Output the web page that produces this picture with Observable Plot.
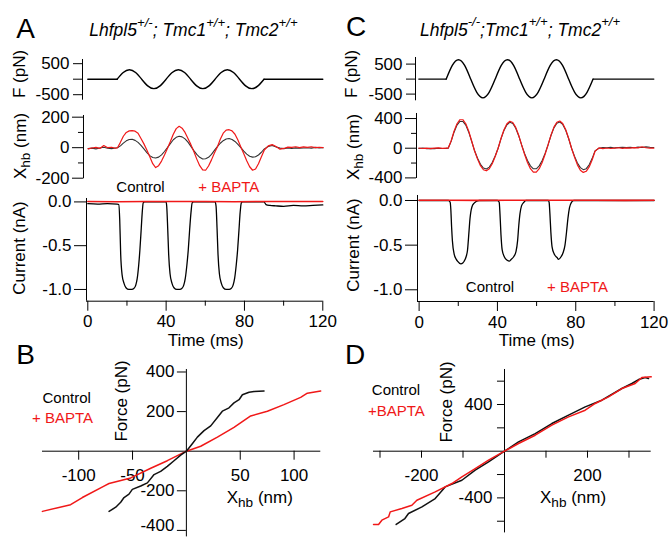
<!DOCTYPE html>
<html><head><meta charset="utf-8">
<script src="https://cdn.jsdelivr.net/npm/d3@7"></script>
<script src="https://cdn.jsdelivr.net/npm/@observablehq/plot@0.6"></script>
<style>
body{margin:0;background:#fff;}
#fig{position:relative;width:669px;height:538px;overflow:hidden;background:#fff;font-family:"Liberation Sans",Arial,Helvetica,sans-serif;color:#000;}
#fig svg{position:absolute;overflow:visible;background:transparent;max-width:none;}
.lbl{position:absolute;white-space:nowrap;line-height:1;}
.sup{font-size:0.75em;position:relative;top:-0.7em;}
.sub{font-size:0.8em;position:relative;top:0.3em;}
</style></head><body><div id="fig"></div><script>
// ---------------- DATA ----------------
// Force stimulus (pN) – sampled at 1/8 period
const forceTimeA = [0, 15, 18.1, 21.25, 24.4, 27.5, 30.6, 33.75, 36.9, 40, 43.1, 46.25, 49.4, 52.5, 55.6, 58.75, 61.9, 65, 68.1, 71.25, 74.4, 77.5, 80.6, 83.75, 86.9, 90, 120];
const forceA     = [0, 0, 215, 305, 215, 0, -215, -305, -215, 0, 215, 305, 215, 0, -215, -305, -215, 0, 215, 305, 215, 0, -215, -305, -215, 0, 0];
const forceWindowA = [15, 90];
const forceTimeC = [0, 14, 17.1, 20.25, 23.4, 26.5, 29.6, 32.75, 35.9, 39, 42.1, 45.25, 48.4, 51.5, 54.6, 57.75, 60.9, 64, 67.1, 70.25, 73.4, 76.5, 79.6, 82.75, 85.9, 89, 120];
const forceC     = [0, 0, 456, 645, 456, 0, -442, -625, -442, 0, 456, 645, 456, 0, -442, -625, -442, 0, 456, 645, 456, 0, -442, -625, -442, 0, 0];
const forceWindowC = [14, 89];

// Hair-bundle displacement (nm)
const timeGrid = [0,2,4,6,8,10,12,14,
  15,16.5,18,19.5,21,22.5,24,25.5,27,28.5,30,31.5,33,34.5,36,37.5,39,40.5,42,43.5,45,46.5,48,49.5,51,52.5,54,55.5,57,58.5,60,61.5,63,64.5,66,67.5,69,70.5,72,73.5,75,76.5,78,79.5,81,82.5,84,85.5,87,88.5,90,
  92,94,96,98,100,102,104,106,108,110,112,114,116,118,120];
const xhbControlA = [-6,-3,-8,-2,3,-4,-6,-2,
  0,12,30,45,54,55,48,35,15,-8,-32,-52,-64,-68,-62,-47,-25,0,27,52,68,75,71,58,36,9,-19,-44,-63,-74,-73,-63,-44,-18,7,29,46,57,60,54,41,22,0,-23,-42,-56,-62,-59,-48,-30,-8,
  8,14,5,-3,-6,-2,-5,-1,-4,-2,0,-3,2,-1,0];
const xhbBaptaA = [-8,-2,2,-5,14,0,3,-4,
  0,35,75,100,110,112,108,95,60,25,-15,-60,-105,-130,-118,-88,-48,-5,40,88,125,140,128,100,60,20,-25,-75,-118,-145,-148,-120,-80,-35,5,55,95,115,118,110,88,50,5,-40,-85,-125,-148,-140,-105,-60,-15,
  12,20,8,-10,-5,4,2,6,0,5,2,6,0,3,0];
const xhbControlC = [-3,2,-6,-2,-5,0,-4,-2,
  0,92,216,311,361,361,311,216,92,-35,-136,-217,-268,-281,-255,-193,-104,0,129,240,317,349,333,270,169,44,-70,-166,-238,-277,-277,-238,-166,-70,44,171,274,338,354,321,243,131,0,-107,-199,-262,-289,-276,-224,-140,-36,
  0,10,6,12,4,9,14,8,12,6,15,10,18,12,10];
const xhbBaptaC = [3,-4,2,-5,0,4,-3,2,
  0,97,230,330,384,384,330,230,97,-38,-147,-235,-290,-304,-276,-209,-112,0,134,249,329,363,346,281,175,46,-81,-192,-276,-321,-321,-276,-192,-81,46,177,284,350,367,333,252,135,0,-120,-224,-296,-326,-311,-252,-158,-41,
  5,-6,3,-4,2,6,-3,4,0,8,5,20,6,2,0];

// Transduction current (nA)
const currentTimeA = [0,5,10,15,15.8,16.3,16.8,17.5,18.5,19.5,21,22.5,23.5,24.5,25.2,26,26.6,27.3,27.8,28.3,29,35,40,
  40.3,40.8,41.3,42,43,44,45.5,47,48,49,49.8,50.6,51.3,52,52.7,53.3,54,60,65,
  65.5,66,66.5,67.2,68.2,69.2,70.7,72.2,73.2,74.2,75,75.8,76.5,77.2,77.8,78.4,79,85,90,91,93,96,100,105,110,115,120];
const currentControlA = [-0.02,-0.025,-0.02,-0.025,-0.03,-0.2,-0.6,-0.83,-0.93,-0.98,-1.0,-1.0,-0.99,-0.95,-0.88,-0.72,-0.55,-0.3,-0.12,-0.01,0,0,0,
  -0.05,-0.3,-0.6,-0.82,-0.93,-0.98,-1.0,-1.0,-0.99,-0.95,-0.87,-0.72,-0.55,-0.32,-0.12,-0.01,0,0,0,
  -0.05,-0.3,-0.6,-0.82,-0.93,-0.98,-1.0,-1.0,-0.99,-0.95,-0.87,-0.72,-0.55,-0.32,-0.12,-0.01,0,0,0,-0.03,-0.04,-0.045,-0.05,-0.04,-0.045,-0.04,-0.035];
const currentTimeRed = [0,15,30,45,60,75,90,105,120];
const currentBaptaA = [0.004,0.003,0.005,0.004,0.005,0.003,0.004,0.005,0.004];
const currentTimeC = [0,10,15,15.85,16.2,16.6,17,17.9,19,19.6,21.3,22.3,23,24,24.7,25.5,26,26.4,27,28.1,30.6,35,40,
  40.9,41.3,41.8,42.4,43.5,45,46,47,48.3,49.5,50.3,50.9,51.5,52.3,53.5,54.5,60,66,
  66.4,66.8,67.3,67.9,69,70.5,71.2,72.5,73.6,74.5,75.3,76,76.8,77.8,79,90,100,110,120];
const currentControlC = [0,0,0,-0.02,-0.1,-0.3,-0.45,-0.6,-0.66,-0.68,-0.71,-0.7,-0.68,-0.63,-0.56,-0.34,-0.2,-0.13,-0.07,-0.03,0,0,0,
  -0.02,-0.15,-0.38,-0.55,-0.63,-0.67,-0.68,-0.66,-0.63,-0.57,-0.45,-0.28,-0.15,-0.06,-0.02,0,0,0,
  -0.02,-0.15,-0.36,-0.52,-0.6,-0.64,-0.66,-0.63,-0.58,-0.5,-0.35,-0.2,-0.08,-0.02,0,0,0,0,0];
const currentBaptaC = [0.002,0.003,0.001,0.003,0.002,0.003,0.002,0.001,0.002];

// Force–displacement relations
const bControlXhb   = [-71.8,-65.6,-61,-57.9,-53.3,-50.2,-42.4,-36.2,-30,-23.9,-17.7,-11.5,-5.3,0,5.5,10.2,16.4,22.6,28.8,33.4,39.6,44.2,48.9,52,58.2,62.8,72.1];
const bControlForce = [-304,-283,-258,-234,-217,-193,-176,-160,-118,-102,-77,-48,-20,0,38,71,104,128,170,202,219,244,260,285,298,301,304];
const bBaptaXhb     = [-133.7,-107.5,-96.6,-76.5,-71.8,-51.7,-33.1,-17.7,0,13.3,28.8,44.2,59.7,75.2,90.6,106.1,112.3,124.7];
const bBaptaForce   = [-304,-270,-234,-176,-163,-135,-86,-48,0,25,71,120,178,202,235,272,293,304];
const dControlXhb   = [-261,-240,-231.3,-199,-167,-143,-102.7,-70.6,-38.5,0,33.8,74,114.1,154.3,194.5,234.6,282.8,306.9,323,339,347];
const dControlForce = [-628,-577,-534,-477,-406,-306,-249,-163,-91,0,80,151,237,309,380,437,537,580,614,631,623];
const dBaptaXhb     = [-315.6,-303.5,-295.5,-279.4,-275.4,-247.3,-223.2,-211.2,-167,-126.8,-102.7,-70.6,-38.5,0,33.8,74,114.1,154.3,194.5,218.6,250.7,282.8,314.9,331,353.5];
const dBaptaForce   = [-628,-628,-591,-563,-520,-491,-463,-420,-349,-277,-220,-149,-77,0,66,137,223,294,351,409,466,537,580,631,637];

// Tick values
const timeTicks = [0, 40, 80, 120], timeMinor = [20, 60, 100];
const fTicks = [500, 0, -500];
const xhbTicksA = [200, 0, -200], xhbMinorA = [100, -100];
const xhbTicksC = [400, 0, -400], xhbMinorC = [200, -200];
const curTicks = [0, -0.5, -1];
const bXTicks = [-100, -50, 50, 100], bYTicks = [400, 200, -200, -400];
const bYLabelsUpper = [400, 200, -200], bYLabelsBottom = [-400];
const dXTicks = [-300, -200, -100, 100, 200, 300], dXLabels = [-200, 200];
const dYTicks = [600, 400, 200, -200, -400, -600], dYLabels = [400, -400];

// ---------------- DRAWING ----------------
const FONT = '"Liberation Sans", Arial, Helvetica, sans-serif';
const RED = "#f01818";
const fig = document.getElementById("fig");
const M = 50;
const rows = (xs, ys) => xs.map((x, i) => ({x, y: ys[i]}));
function forceRows(ts, vs, win) {
  const out = [];
  ts.forEach((t, i) => {
    if (t <= win[0]) out.push({x: t, y: vs[i], z: "pre"});
    if (t >= win[0] && t <= win[1]) out.push({x: t, y: vs[i], z: "osc"});
    if (t >= win[1]) out.push({x: t, y: vs[i], z: "post"});
  });
  return out;
}
function panel(f, xDomain, yDomain, marks, noX) {
  const svg = Plot.plot({
    width: f.x1 - f.x0 + 2 * M, height: f.y1 - f.y0 + 2 * M,
    marginLeft: M, marginRight: M, marginTop: M, marginBottom: M,
    x: noX ? {domain: xDomain, label: null, axis: null} : {domain: xDomain, label: null},
    y: {domain: yDomain, label: null},
    style: {fontFamily: FONT, fontSize: "17px", overflow: "visible", background: "transparent", color: "#000"},
    marks
  });
  svg.style.left = (f.x0 - M) + "px";
  svg.style.top = (f.y0 - M) + "px";
  fig.appendChild(svg);
}
const yAxis = (ticks, size, pad, fmt, extra = {}) =>
  Plot.axisY({ticks, tickSize: size, tickPadding: pad, tickFormat: fmt, label: null, ...extra});
const xAxis = (ticks, size, pad, fmt, extra = {}) =>
  Plot.axisX({ticks, tickSize: size, tickPadding: pad, tickFormat: fmt, label: null, ...extra});
const noLbl = () => "";
const intFmt = d => (d === 0 ? "" : String(d));
const curFmt = d => d.toFixed(1);

// ---- Panel A ----
{
  const xdF = [-2.7, 120], ydF = [-677, 635];
  panel({x0: 82, x1: 322.3, y0: 59.3, y1: 100}, xdF, ydF, [
    Plot.ruleX([xdF[0]], {stroke: "#000"}),
    yAxis(fTicks, 9, 4, intFmt),
    Plot.line(forceRows(forceTimeA, forceA, forceWindowA), {x: "x", y: "y", z: "z", curve: "natural", stroke: "#000", strokeWidth: 1.4})
  ], true);
  const xdX = [-2.35, 120], ydX = [-204, 211];
  panel({x0: 82.7, x1: 322.3, y0: 115, y1: 178.3}, xdX, ydX, [
    Plot.ruleX([xdX[0]], {stroke: "#000"}),
    yAxis(xhbTicksA, 11, 3, d => String(d)),
    yAxis(xhbMinorA, 5, 3, noLbl),
    Plot.line(rows(timeGrid, xhbControlA), {x: "x", y: "y", stroke: "#333", strokeWidth: 1.1}),
    Plot.line(rows(timeGrid, xhbBaptaA), {x: "x", y: "y", stroke: RED, strokeWidth: 1.2})
  ], true);
  const xdI = [-0.66, 120], ydI = [-1.134, 0.039];
  panel({x0: 86, x1: 322.3, y0: 198.3, y1: 301}, xdI, ydI, [
    Plot.ruleX([xdI[0]], {stroke: "#000"}),
    Plot.ruleY([ydI[0]], {stroke: "#000"}),
    yAxis(curTicks, 12, 3, curFmt),
    xAxis(timeTicks, 10, 4, d => String(d)),
    xAxis(timeMinor, 5, 4, noLbl),
    Plot.line(rows(currentTimeA, currentControlA), {x: "x", y: "y", curve: "monotone-x", stroke: "#000", strokeWidth: 1.3}),
    Plot.line(rows(currentTimeRed, currentBaptaA), {x: "x", y: "y", stroke: RED, strokeWidth: 1.5})
  ]);
}
// ---- Panel C ----
{
  const xdF = [-1.69, 120], ydF = [-723, 720];
  panel({x0: 415, x1: 653.3, y0: 56.7, y1: 100}, xdF, ydF, [
    Plot.ruleX([xdF[0]], {stroke: "#000"}),
    yAxis(fTicks, 9, 4, intFmt),
    Plot.line(forceRows(forceTimeC, forceC, forceWindowC), {x: "x", y: "y", z: "z", curve: "natural", stroke: "#000", strokeWidth: 1.4})
  ], true);
  const xdX = [-1.17, 120], ydX = [-408, 468];
  panel({x0: 416, x1: 653.3, y0: 113.3, y1: 178.3}, xdX, ydX, [
    Plot.ruleX([xdX[0]], {stroke: "#000"}),
    yAxis(xhbTicksC, 11, 3, d => String(d)),
    yAxis(xhbMinorC, 5, 3, noLbl),
    Plot.line(rows(timeGrid, xhbControlC), {x: "x", y: "y", stroke: "#333", strokeWidth: 1.1}),
    Plot.line(rows(timeGrid, xhbBaptaC), {x: "x", y: "y", stroke: RED, strokeWidth: 1.2})
  ], true);
  const xdI = [-0.82, 120], ydI = [-1.131, 0.056];
  panel({x0: 416.7, x1: 653.3, y0: 195, y1: 301}, xdI, ydI, [
    Plot.ruleX([xdI[0]], {stroke: "#000"}),
    Plot.ruleY([ydI[0]], {stroke: "#000"}),
    yAxis(curTicks, 12, 3, curFmt),
    xAxis(timeTicks, 10, 4, d => String(d)),
    xAxis(timeMinor, 5, 4, noLbl),
    Plot.line(rows(currentTimeC, currentControlC), {x: "x", y: "y", curve: "monotone-x", stroke: "#000", strokeWidth: 1.3}),
    Plot.line(rows(currentTimeRed, currentBaptaC), {x: "x", y: "y", stroke: RED, strokeWidth: 1.6})
  ]);
}
// ---- Panel B ----
{
  const f = {x0: 41.7, x1: 320, y0: 369.3, y1: 536.7};
  const xd = [-133.6, 124.8], yd = [-432.8, 412.6];
  const ax = 185.6 - f.x0;
  panel(f, xd, yd, [
    Plot.ruleY([0], {stroke: "#000"}),
    Plot.ruleX([0], {stroke: "#000"}),
    xAxis(bXTicks, 9, 9, d => String(d), {dy: 451 - f.y1}),
    yAxis(bYTicks, 9, 3, noLbl, {dx: ax}),
    yAxis(bYLabelsUpper, 0, 12, d => String(d), {dx: ax}),
    yAxis(bYLabelsBottom, 0, 12, d => String(d), {dx: ax, dy: -5}),
    Plot.line(rows(bBaptaXhb, bBaptaForce), {x: "x", y: "y", stroke: RED, strokeWidth: 1.5}),
    Plot.line(rows(bControlXhb, bControlForce), {x: "x", y: "y", stroke: "#111", strokeWidth: 1.5})
  ]);
}
// ---- Panel D ----
{
  const f = {x0: 373.3, x1: 651, y0: 369.3, y1: 532.7};
  const xd = [-315.7, 353.5], yd = [-700, 700];
  panel(f, xd, yd, [
    Plot.ruleY([0], {stroke: "#000"}),
    Plot.ruleX([0], {stroke: "#000"}),
    xAxis(dXTicks, 7, 11, d => (dXLabels.includes(d) ? String(d) : ""), {dy: 451 - f.y1}),
    yAxis(dYTicks, 7, 5, d => (dYLabels.includes(d) ? String(d) : ""), {dx: 504.3 - f.x0}),
    Plot.line(rows(dControlXhb, dControlForce), {x: "x", y: "y", stroke: "#111", strokeWidth: 1.5}),
    Plot.line(rows(dBaptaXhb, dBaptaForce), {x: "x", y: "y", stroke: RED, strokeWidth: 1.5})
  ]);
}

// ---------------- TEXT ----------------
function label(html, x, y, o = {}) {
  const d = document.createElement("div");
  d.className = "lbl";
  d.innerHTML = html;
  d.style.left = x + "px";
  d.style.top = y + "px";
  d.style.fontSize = (o.size || 17) + "px";
  d.style.color = o.color || "#000";
  if (o.italic) d.style.fontStyle = "italic";
  d.style.transform = (o.left ? "translate(0,-50%)" : "translate(-50%,-50%)") + (o.rotate ? " rotate(-90deg)" : "");
  fig.appendChild(d);
}
const XHB = 'X<span class="sub">hb</span> (nm)';
// panel letters
label("A", 25.5, 29, {size: 28});
label("C", 356, 27, {size: 28});
label("B", 25.5, 355, {size: 28});
label("D", 355, 355, {size: 28});
// titles
label('Lhfpl5<span class="sup">+/-</span>; Tmc1<span class="sup">+/+</span>; Tmc2<span class="sup">+/+</span>', 89.3, 31, {size: 17.5, italic: true, left: true});
label('Lhfpl5<span class="sup">-/-</span>;Tmc1<span class="sup">+/+</span>; Tmc2<span class="sup">+/+</span>', 420, 30.5, {size: 17.5, italic: true, left: true});
// rotated y titles
label("F (pN)", 19, 73.5, {rotate: true});
label(XHB, 20, 146, {rotate: true});
label("Current (nA)", 19, 247.5, {rotate: true});
label("F (pN)", 351, 73.5, {rotate: true});
label(XHB, 352.5, 146.5, {rotate: true});
label("Current (nA)", 352.5, 245, {rotate: true});
label("Force (pN)", 121, 401, {rotate: true});
label("Force (pN)", 445.5, 401.7, {rotate: true});
// x titles
label("Time (ms)", 205.8, 339.5);
label("Time (ms)", 536.7, 339.5);
label(XHB, 226.7, 497, {left: true});
label(XHB, 540, 497, {left: true});
// legends
label("Control", 140.5, 186, {size: 15});
label("+ BAPTA", 228.8, 186, {size: 15, color: RED});
label("Control", 490, 286, {size: 15});
label("+ BAPTA", 577.5, 286, {size: 15, color: RED});
label("Control", 66.7, 396.7, {size: 15});
label("+ BAPTA", 62.5, 417.3, {size: 15, color: RED});
label("Control", 396, 389.3, {size: 15});
label("+BAPTA", 396.3, 410, {size: 15, color: RED});
</script></body></html>
